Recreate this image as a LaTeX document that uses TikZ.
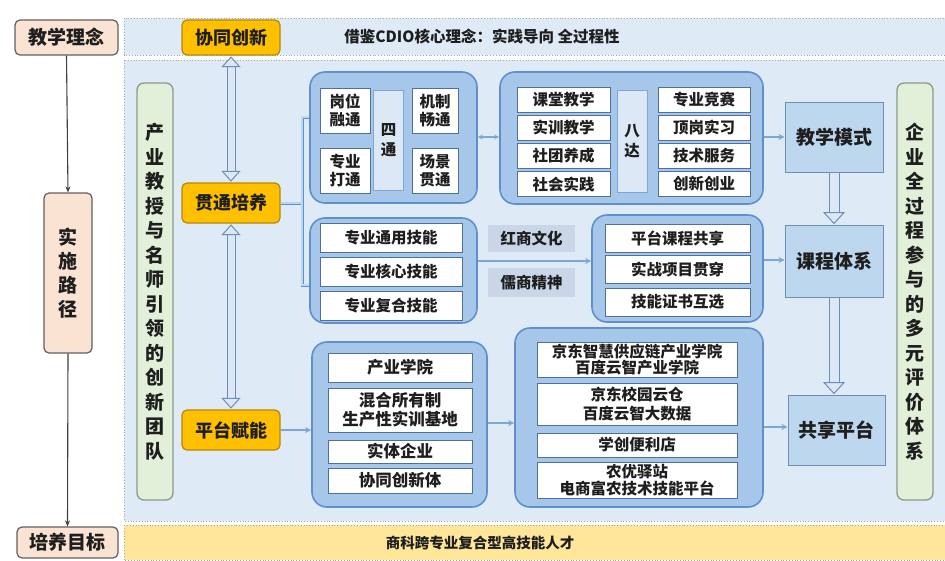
\documentclass[tikz,border=0pt]{standalone}
\usepackage{fontspec}
\setmainfont{Noto Sans CJK SC}
\usetikzlibrary{arrows.meta,calc}
\definecolor{bandblue}{HTML}{DEEAF6}
\definecolor{peach}{HTML}{FBE3D4}
\definecolor{orangef}{HTML}{FFC000}
\definecolor{orgborder}{HTML}{B8860B}
\definecolor{greenf}{HTML}{E2F0D9}
\definecolor{greenb}{HTML}{8A9A8A}
\definecolor{contfill}{HTML}{A7C7EA}
\definecolor{contborder}{HTML}{5F90CC}
\definecolor{innerb}{HTML}{4F6F9F}
\definecolor{stripfill}{HTML}{DCE8F5}
\definecolor{modefill}{HTML}{BDD7EE}
\definecolor{modeb}{HTML}{6E8DB8}
\definecolor{labfill}{HTML}{C8D6E8}
\definecolor{yellowf}{HTML}{FFE699}
\definecolor{arrowc}{HTML}{7FA7D4}
\definecolor{txt}{HTML}{1E1E1E}
\begin{document}
\begin{tikzpicture}[x=1pt,y=-1pt,
  every node/.style={text=txt, inner sep=0pt, font=\bfseries},
  hdr/.style={draw=gray!75!black, fill=peach, rounded corners=5pt, line width=1.2pt, font=\bfseries\fontsize{19}{22}\selectfont},
  orgbox/.style={draw=orgborder, fill=orangef, rounded corners=5pt, line width=1.2pt, minimum width=98pt, font=\bfseries\fontsize{18}{22}\selectfont},
  vgreen/.style={draw=greenb, fill=greenf, rounded corners=7pt, line width=1.3pt, minimum width=36pt, minimum height=417pt, align=center, font=\bfseries\fontsize{19}{24.5}\selectfont},
  cont/.style={draw=contborder, fill=contfill, rounded corners=15pt, line width=1.6pt},
  wbox/.style={draw=innerb, fill=white, line width=0.7pt, align=center, font=\bfseries\fontsize{15.5}{18}\selectfont},
  strip/.style={draw=arrowc, fill=stripfill, line width=0.8pt, align=center, font=\bfseries\fontsize{15.5}{20}\selectfont},
  modebox/.style={draw=modeb, fill=modefill, line width=1pt, minimum width=98pt, font=\bfseries\fontsize{19}{22}\selectfont},
  labbox/.style={fill=labfill, minimum width=87pt, font=\bfseries\fontsize{15.5}{18}\selectfont},
  arr/.style={draw=arrowc, line width=1.1pt, -{Stealth[length=6pt,width=6pt]}},
  darr/.style={draw=arrowc, line width=1.1pt, {Stealth[length=5pt,width=5pt]}-{Stealth[length=5pt,width=5pt]}},
  shaft/.style={draw=modeb, double=stripfill, line width=1pt},
  headtri/.style={draw=modeb, fill=stripfill, line width=1pt, line join=miter},
  bracket/.style={draw=contborder, double=modefill, double distance=1.6pt, line width=0.7pt},
  leftarr/.style={draw=black!75, line width=1.1pt, -{Stealth[length=6pt,width=5pt]}},
  band/.style={dotted, draw=gray!70, line width=0.8pt}
]
\useasboundingbox (0,0) rectangle (945,560);
\fill[white] (0,0) rectangle (945,560);
% bands
\filldraw[band, fill=bandblue] (124,18) rectangle (945,55);
\filldraw[band, fill=bandblue] (124,60) rectangle (945,521);
\filldraw[band, fill=yellowf] (124,525) rectangle (945,560);
\node[font=\bfseries\fontsize{15.5}{20}\selectfont] (topt) at (482,37) {借鉴CDIO核心理念：实践导向 全过程性};
\node[font=\bfseries\fontsize{14.5}{18}\selectfont] (bott) at (480,543) {商科跨专业复合型高技能人才};

% left column
\node[hdr, minimum width=103pt, minimum height=35pt] (jxln) at (66.5,37.5) {教学理念};
\node[hdr, minimum width=48pt, minimum height=160pt, align=center, font=\bfseries\fontsize{19}{24}\selectfont] (sslj) at (68,273) {实\\施\\路\\径};
\node[hdr, minimum width=101pt, minimum height=31pt] (pymb) at (67.5,542.5) {培养目标};
\draw[leftarr] (jxln.south) -- (sslj.north);
\draw[leftarr] (sslj.south) -- (pymb.north);

% orange boxes
\node[orgbox, minimum height=35pt] (xtcx) at (231,37.5) {协同创新};
\node[orgbox, minimum height=40pt] (gtpy) at (231,203) {贯通培养};
\node[orgbox, minimum height=40pt] (ptfn) at (231,430) {平台赋能};

% hollow double arrows between orange boxes
\draw[shaft, double distance=7pt] ($(xtcx.south)+(0,9)$) -- ($(gtpy.north)+(0,-9)$);
\draw[headtri] ($(xtcx.south)+(0,1.5)$) -- ($(xtcx.south)+(8.5,11)$) -- ($(xtcx.south)+(-8.5,11)$) -- cycle;
\draw[headtri] ($(gtpy.north)+(0,-1.5)$) -- ($(gtpy.north)+(8.5,-11)$) -- ($(gtpy.north)+(-8.5,-11)$) -- cycle;
\draw[shaft, double distance=7pt] ($(gtpy.south)+(0,9)$) -- ($(ptfn.north)+(0,-9)$);
\draw[headtri] ($(gtpy.south)+(0,1.5)$) -- ($(gtpy.south)+(8.5,11)$) -- ($(gtpy.south)+(-8.5,11)$) -- cycle;
\draw[headtri] ($(ptfn.north)+(0,-1.5)$) -- ($(ptfn.north)+(8.5,-11)$) -- ($(ptfn.north)+(-8.5,-11)$) -- cycle;

% green vertical boxes
\node[vgreen] (team) at (155,291.5) {产\\业\\教\\授\\与\\名\\师\\引\\领\\的\\创\\新\\团\\队};
\node[vgreen] (eval) at (915,291.5) {企\\业\\全\\过\\程\\参\\与\\的\\多\\元\\评\\价\\体\\系};

% four-links container
\node[cont, minimum width=167pt, minimum height=131pt] (st) at (393.5,137.5) {};
\node[wbox, minimum width=50pt, minimum height=45pt] (gw) at (345,110.5) {岗位\\融通};
\node[wbox, minimum width=50pt, minimum height=45pt] (zy) at (345,170.5) {专业\\打通};
\node[strip, minimum width=30pt, minimum height=100pt] (stl) at (388.5,140) {四\\通};
\node[wbox, minimum width=46pt, minimum height=45pt] (jz) at (435,110.5) {机制\\畅通};
\node[wbox, minimum width=46pt, minimum height=45pt] (cj) at (435,170.5) {场景\\贯通};

% eight-reach container
\node[cont, minimum width=263pt, minimum height=132pt] (bd) at (631.5,138) {};
\node[wbox, minimum width=93pt, minimum height=25pt] (b1) at (563.5,100) {课堂教学};
\node[wbox, minimum width=93pt, minimum height=25pt] (b2) at (563.5,128) {实训教学};
\node[wbox, minimum width=93pt, minimum height=25pt] (b3) at (563.5,156) {社团养成};
\node[wbox, minimum width=93pt, minimum height=25pt] (b4) at (563.5,184) {社会实践};
\node[strip, minimum width=30pt, minimum height=102pt] (bdl) at (632,141) {八\\达};
\node[wbox, minimum width=92pt, minimum height=25pt] (b5) at (704,100) {专业竞赛};
\node[wbox, minimum width=92pt, minimum height=25pt] (b6) at (704,128) {顶岗实习};
\node[wbox, minimum width=92pt, minimum height=25pt] (b7) at (704,156) {技术服务};
\node[wbox, minimum width=92pt, minimum height=25pt] (b8) at (704,184) {创新创业};

% skills container
\node[cont, minimum width=167pt, minimum height=105pt] (sk) at (393.5,270.5) {};
\node[wbox, minimum width=142pt, minimum height=29pt] (s1) at (391,237.5) {专业通用技能};
\node[wbox, minimum width=142pt, minimum height=29pt] (s2) at (391,272) {专业核心技能};
\node[wbox, minimum width=142pt, minimum height=29pt] (s3) at (391,306) {专业复合技能};
\node[labbox, minimum height=27pt] (hs) at (531.5,238.5) {红商文化};
\node[labbox, minimum height=29pt] (rs) at (531.5,282.5) {儒商精神};

% platform course container
\node[cont, minimum width=171pt, minimum height=107pt] (pc) at (677.5,268.5) {};
\node[wbox, minimum width=145pt, minimum height=28pt] (p1) at (677.5,238) {平台课程共享};
\node[wbox, minimum width=145pt, minimum height=28pt] (p2) at (677.5,269.5) {实战项目贯穿};
\node[wbox, minimum width=145pt, minimum height=28pt] (p3) at (677.5,302) {技能证书互选};

% industry container
\node[cont, minimum width=175pt, minimum height=165pt] (ind) at (399.5,424.5) {};
\node[wbox, minimum width=144pt, minimum height=29pt, font=\bfseries\fontsize{16.5}{19}\selectfont] (i1) at (400,367.5) {产业学院};
\node[wbox, minimum width=144pt, minimum height=44pt, font=\bfseries\fontsize{16.5}{19}\selectfont] (i2) at (400,410) {混合所有制\\生产性实训基地};
\node[wbox, minimum width=144pt, minimum height=23pt, font=\bfseries\fontsize{16.5}{19}\selectfont] (i3) at (400,451.5) {实体企业};
\node[wbox, minimum width=144pt, minimum height=25pt, font=\bfseries\fontsize{16.5}{19}\selectfont] (i4) at (400,480.5) {协同创新体};

% JD container
\node[cont, minimum width=248pt, minimum height=179pt] (jd) at (639,417.5) {};
\node[wbox, minimum width=200pt, minimum height=35pt, font=\bfseries\fontsize{15.5}{16.5}\selectfont] (j1) at (637,359.5) {京东智慧供应链产业学院\\百度云智产业学院};
\node[wbox, minimum width=200pt, minimum height=42pt, font=\bfseries\fontsize{15.5}{19}\selectfont] (j2) at (637,404) {京东校园云仓\\百度云智大数据};
\node[wbox, minimum width=200pt, minimum height=24pt] (j3) at (637,445) {学创便利店};
\node[wbox, minimum width=200pt, minimum height=36pt, font=\bfseries\fontsize{15.5}{17}\selectfont] (j4) at (637,480) {农优驿站\\电商富农技术技能平台};

% right mode boxes
\node[modebox, minimum height=70pt] (jxms) at (834,137) {教学模式};
\node[modebox, minimum height=72pt] (kctx) at (834,261) {课程体系};
\node[modebox, minimum width=97pt, minimum height=70pt] (gxpt) at (836.5,430) {共享平台};
\draw[shaft, double distance=9pt] (jxms.south) -- ($(kctx.north)+(0,-10)$);
\draw[headtri] ($(kctx.north)+(0,-1)$) -- ($(kctx.north)+(10,-12)$) -- ($(kctx.north)+(-10,-12)$) -- cycle;
\draw[shaft, double distance=9pt] (kctx.south) -- ($(kctx.south |- gxpt.north)+(0,-10)$);
\draw[headtri] ($(kctx.south |- gxpt.north)+(0,-1)$) -- ($(kctx.south |- gxpt.north)+(10,-12)$) -- ($(kctx.south |- gxpt.north)+(-10,-12)$) -- cycle;

% bracket from 贯通培养
\coordinate (bj) at (302,203);
\coordinate (bt) at (302,117);
\coordinate (bb) at (302,285);
\draw[bracket] (gtpy.east) -- (bj);
\draw[bracket] (st.west |- bt) -- (bt) -- (bb) -- (sk.west |- bb);

% small arrows
\draw[darr] (st.east |- 0,137) -- (bd.west |- 0,137);
\draw[arr] (bd.east |- 0,137) -- (jxms.west |- 0,137);
\draw[arr] (sk.east |- 0,261) -- (pc.west |- 0,261);
\draw[arr] (pc.east |- 0,260) -- (kctx.west |- 0,260);
\draw[arr] (ptfn.east) -- (ind.west |- ptfn.east);
\draw[arr] (ind.east |- 0,423) -- (jd.west |- 0,423);
\draw[arr] (jd.east |- 0,427) -- (gxpt.west |- 0,427);
\end{tikzpicture}
\end{document}
